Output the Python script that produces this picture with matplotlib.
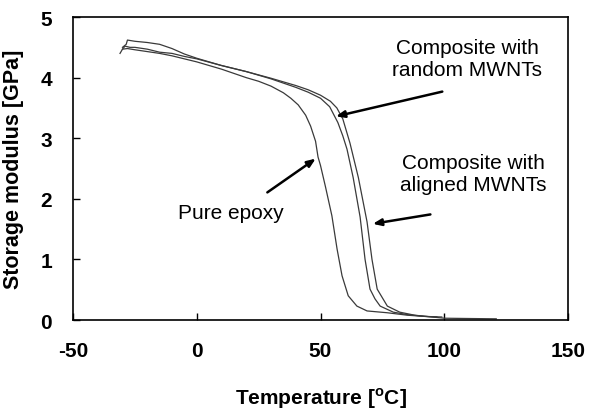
import matplotlib
matplotlib.use("Agg")
import matplotlib.pyplot as plt

plt.rcParams['font.family'] = ['Liberation Sans', 'DejaVu Sans']
plt.rcParams['mathtext.fontset'] = 'custom'
plt.rcParams['mathtext.rm'] = 'Liberation Sans:bold'
plt.rcParams['axes.unicode_minus'] = False

# datos (T en grados C, modulo en GPa)
t_epoxy = [-31, -30, -28, -25, -20, -15, -10, -5, 0, 5, 10, 15, 20, 25, 30, 35, 38, 41,
           44, 46, 48, 49, 50, 52, 54.6, 56.7, 58.7, 61.2, 64.7, 68.8, 77, 85, 92, 99]
e_epoxy = [4.40, 4.47, 4.48, 4.46, 4.43, 4.40, 4.36, 4.31, 4.26, 4.20, 4.14, 4.07, 4.00,
           3.94, 3.86, 3.75, 3.66, 3.55, 3.38, 3.20, 2.95, 2.69, 2.55, 2.20, 1.72, 1.17,
           0.73, 0.40, 0.23, 0.15, 0.12, 0.08, 0.06, 0.05]

t_random = [-30, -29, -27, -25, -20, -15, -10, -5, 0, 10, 20, 30, 40, 45, 50, 53.7, 57,
            59, 60.7, 63.2, 66, 68, 70, 72, 74.1, 79.4, 85, 92, 97]
e_random = [4.47, 4.52, 4.50, 4.50, 4.47, 4.42, 4.40, 4.35, 4.31, 4.20, 4.10, 3.98, 3.84,
            3.76, 3.66, 3.52, 3.26, 3.04, 2.82, 2.35, 1.70, 1.00, 0.51, 0.35, 0.23, 0.13,
            0.09, 0.06, 0.05]

t_aligned = [-30, -28.5, -28, -25, -20, -15, -10, -5, 0, 5, 10, 20, 30, 40, 45, 50, 54,
             56.6, 59, 61.9, 65.3, 68.8, 70.8, 72.9, 77, 82, 88, 95, 100, 110, 121]
e_aligned = [4.50, 4.55, 4.62, 4.60, 4.58, 4.55, 4.48, 4.39, 4.32, 4.26, 4.20, 4.10, 3.99,
             3.87, 3.80, 3.71, 3.61, 3.50, 3.32, 2.92, 2.35, 1.62, 1.00, 0.51, 0.23, 0.13,
             0.08, 0.05, 0.03, 0.025, 0.02]

fig = plt.figure(figsize=(5.92, 4.10), dpi=100)
ax = fig.add_axes([0.1233, 0.217, 0.8362, 0.739])

for t, e in [(t_epoxy, e_epoxy), (t_random, e_random), (t_aligned, e_aligned)]:
    ax.plot(t, e, color='#3a3a3a', lw=0.9)

ax.set_xlim(-50, 150)
ax.set_ylim(0, 5)
ax.set_xticks([-50, 0, 50, 100, 150])
ax.set_yticks([0, 1, 2, 3, 4, 5])
ax.tick_params(direction='in', length=5, width=1, labelsize=15, pad=15)
for lab in ax.get_xticklabels() + ax.get_yticklabels():
    lab.set_fontweight('bold')
for s in ax.spines.values():
    s.set_linewidth(1.2)

ax.set_xlabel(r'Temperature [$^{\rm o}$C]', fontsize=15, fontweight='bold', labelpad=18)
ax.set_ylabel('Storage modulus [GPa]', fontsize=15.5, fontweight='bold', labelpad=12)

# anotaciones con flechas
flecha = dict(arrowstyle='-|>,head_length=0.5,head_width=0.2', color='black', lw=1.8)
ax.annotate('', xy=(49, 2.69), xytext=(27.6, 2.08), arrowprops=flecha)
ax.annotate('', xy=(55.1, 3.35), xytext=(100.3, 3.78), arrowprops=flecha)
ax.annotate('', xy=(70, 1.58), xytext=(95.5, 1.75), arrowprops=flecha)

ax.text(13.8, 1.77, 'Pure epoxy', fontsize=15, ha='center', va='center')
ax.text(109.2, 4.31, 'Composite with\nrandom MWNTs', fontsize=15, ha='center', va='center',
        linespacing=1.2)
ax.text(111.6, 2.41, 'Composite with\naligned MWNTs', fontsize=15, ha='center', va='center',
        linespacing=1.2)

fig.savefig('out.png', dpi=100)
